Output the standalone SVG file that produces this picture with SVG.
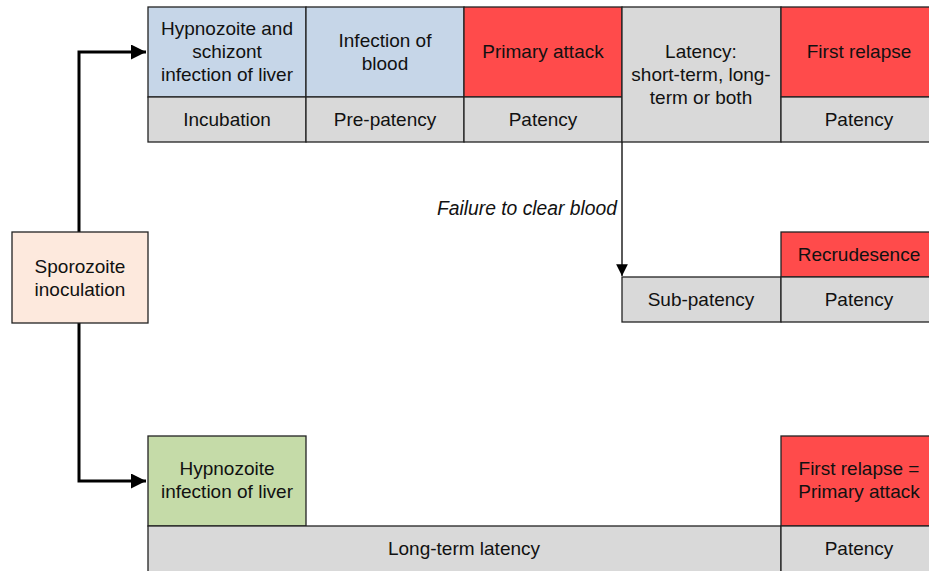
<svg xmlns="http://www.w3.org/2000/svg" width="929" height="571" viewBox="0 0 929 571">
<style>
.b{stroke:#222;stroke-width:1.3}
.blue{fill:#c6d6e8}.red{fill:#ff4b4b}.gray{fill:#d9d9d9}.peach{fill:#fde9dd}.green{fill:#c5dba8}
text{font-family:"Liberation Sans",Arial,sans-serif;font-size:19px;fill:#111;text-anchor:middle}
.it{font-style:italic;text-anchor:end;font-size:19.3px}
.thick{fill:none;stroke:#000;stroke-width:3}
.thin{fill:none;stroke:#000;stroke-width:1.3}
</style>
<defs>
<marker id="ah" viewBox="0 0 10 10" refX="10" refY="5" markerWidth="5" markerHeight="5" markerUnits="strokeWidth" orient="auto"><path d="M0,0 L10,5 L0,10 Z" fill="#000"/></marker>
<marker id="ah2" viewBox="0 0 10 10" refX="10" refY="5" markerWidth="9" markerHeight="9" markerUnits="strokeWidth" orient="auto"><path d="M0,0 L10,5 L0,10 Z" fill="#000"/></marker>
</defs>
<g id="connectors">
<path class="thick" d="M79,232 V52 H146" marker-end="url(#ah)"/>
<path class="thick" d="M79,323 V481 H146" marker-end="url(#ah)"/>
<path class="thin" d="M622,142 V276" marker-end="url(#ah2)"/>
<text class="it" x="617" y="215">Failure to clear blood</text>
</g>
<g id="sporozoite"><rect class="b peach" x="12" y="232" width="136" height="91"/><text x="80" y="273">Sporozoite</text><text x="80" y="296">inoculation</text></g>
<g id="liver1"><rect class="b blue" x="148" y="7" width="158" height="90"/><text x="227" y="35">Hypnozoite and</text><text x="227" y="58">schizont</text><text x="227" y="81">infection of liver</text></g>
<g id="incubation"><rect class="b gray" x="148" y="97" width="158" height="45"/><text x="227" y="126">Incubation</text></g>
<g id="blood"><rect class="b blue" x="306" y="7" width="158" height="90"/><text x="385" y="47">Infection of</text><text x="385" y="70">blood</text></g>
<g id="prepatency"><rect class="b gray" x="306" y="97" width="158" height="45"/><text x="385" y="126">Pre-patency</text></g>
<g id="primary"><rect class="b red" x="464" y="7" width="158" height="90"/><text x="543" y="58">Primary attack</text></g>
<g id="patency1"><rect class="b gray" x="464" y="97" width="158" height="45"/><text x="543" y="126">Patency</text></g>
<g id="latency"><rect class="b gray" x="622" y="7" width="159" height="135"/><text x="701" y="58">Latency:</text><text x="701" y="81">short-term, long-</text><text x="701" y="104">term or both</text></g>
<g id="relapse"><rect class="b red" x="781" y="7" width="160" height="90"/><text x="859" y="58">First relapse</text></g>
<g id="patency2"><rect class="b gray" x="781" y="97" width="160" height="45"/><text x="859" y="126">Patency</text></g>
<g id="subpatency"><rect class="b gray" x="622" y="277" width="159" height="45"/><text x="701" y="306">Sub-patency</text></g>
<g id="recrudesence"><rect class="b red" x="781" y="232" width="160" height="45"/><text x="859" y="261">Recrudesence</text></g>
<g id="patency3"><rect class="b gray" x="781" y="277" width="160" height="45"/><text x="859" y="306">Patency</text></g>
<g id="liver2"><rect class="b green" x="148" y="436" width="158" height="90"/><text x="227" y="475">Hypnozoite</text><text x="227" y="498">infection of liver</text></g>
<g id="longterm"><rect class="b gray" x="148" y="526" width="633" height="50"/><text x="464" y="555">Long-term latency</text></g>
<g id="relapse2"><rect class="b red" x="781" y="436" width="160" height="90"/><text x="859" y="475">First relapse =</text><text x="859" y="498">Primary attack</text></g>
<g id="patency4"><rect class="b gray" x="781" y="526" width="160" height="50"/><text x="859" y="555">Patency</text></g>
</svg>
